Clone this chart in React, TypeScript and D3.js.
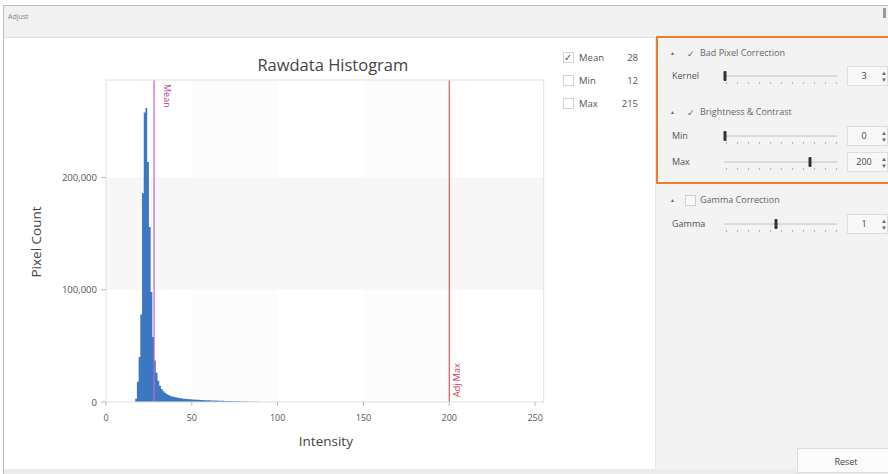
import React from "react";
import * as d3 from "d3";

const intensity = [17,18,19,20,21,22,23,24,25,26,27,28,29,30,31,32,33,34,35,36,37,38,39,40,41,42,43,44,45,46,47,48,49,50,51,52,53,54,55,56,57,58,59,60,61,62,63,64,65,66,67,68,69,70,71,72,73,74,75,76,77,78,79,80,81,82,83,84,85,86,87,88,89,90,91,92,93,94,95,96,97,98,99,100];
const pixelCount = [3000,18000,40000,78000,186000,258000,262000,214000,156000,98000,58000,37000,26000,19000,14500,11500,9500,8200,7200,6300,5600,5000,4600,4200,3900,3600,3400,3200,3000,2850,2700,2550,2400,2300,2200,2100,2000,1900,1800,1720,1650,1580,1500,1450,1400,1350,1300,1250,1200,1150,1100,1050,1000,950,900,850,800,750,700,650,600,550,500,450,400,360,320,280,240,200,170,140,110,80,60,50,40,35,30,25,20,15,10,5];
const xTicks = [0, 50, 100, 150, 200, 250];
const yTicks = [0, 100000, 200000];
const stats = [
  { label: "Mean", value: "28", checked: true },
  { label: "Min", value: "12", checked: false },
  { label: "Max", value: "215", checked: false },
];
const meanValue = 28;
const adjMaxValue = 200;

const FONT = "'Open Sans', 'Noto Sans', sans-serif";

function Slider({ y, label, thumb, value }: { y: number; label: string; thumb: number; value: string }) {
  const dots = d3.range(0, 11).map((i) => 726 + i * 11);
  return (
    <g>
      <text x={672} y={y + 3} fontSize={9} fill="#555" fontFamily={FONT}>{label}</text>
      <line x1={724} x2={837} y1={y} y2={y} stroke="#c4c4c4" strokeWidth={1} />
      {dots.map((d, i) => (
        <rect key={i} x={d} y={y + 6} width={1} height={2} fill="#b5b5b5" />
      ))}
      <rect x={thumb - 1.5} y={y - 5} width={3} height={10} rx={1} fill="#333" />
      <rect x={847.5} y={y - 9.5} width={40} height={19} fill="#f8f8f8" stroke="#dedede" />
      <text x={864} y={y + 3} fontSize={9} fill="#444" textAnchor="middle" fontFamily={FONT}>{value}</text>
      <text x={884} y={y - 1} fontSize={6} fill="#666" textAnchor="middle" fontFamily={FONT}>▲</text>
      <text x={884} y={y + 6} fontSize={6} fill="#666" textAnchor="middle" fontFamily={FONT}>▼</text>
    </g>
  );
}

function Header({ y, text, checked }: { y: number; text: string; checked: boolean }) {
  return (
    <g>
      <text x={670} y={y + 2} fontSize={5} fill="#666" fontFamily={FONT}>▲</text>
      {checked ? (
        <text x={687} y={y + 3.5} fontSize={9} fill="#666" fontFamily={FONT}>✓</text>
      ) : (
        <rect x={685.5} y={y - 4.5} width={10} height={10} fill="#fafafa" stroke="#cfcfcf" />
      )}
      <text x={700} y={y + 3} fontSize={9} fill="#666" fontFamily={FONT}>{text}</text>
    </g>
  );
}

export default function App() {
  const left = 106, right = 543.7, top = 80, bottom = 402;
  const x = d3.scaleLinear().domain([0, 255]).range([left, right]);
  const y = d3.scaleLinear().domain([0, 287000]).range([bottom, top]);
  const fmt = d3.format(",");

  const stepData = intensity.map((v, i) => ({ v, c: pixelCount[i] }));
  const last = intensity[intensity.length - 1] + 1;
  stepData.push({ v: last, c: 0 });
  const area = d3
    .area<{ v: number; c: number }>()
    .x((d) => x(d.v))
    .y0(bottom)
    .y1((d) => y(d.c))
    .curve(d3.curveStepAfter);

  return (
    <svg width={888} height={474} style={{ position: "absolute", left: 0, top: 0 }} fontFamily={FONT}>
      <rect x={0} y={0} width={888} height={474} fill="#ffffff" />
      {/* window */}
      <rect x={3.5} y={5.5} width={890} height={470} fill="#ffffff" stroke="#bdbdbd" />
      <rect x={4} y={6} width={884} height={31} fill="#f1f1f1" />
      <line x1={4} x2={888} y1={37.5} y2={37.5} stroke="#e0e0e0" />
      <text x={8} y={19} fontSize={7} fill="#888">Adjust</text>
      <rect x={883} y={8} width={3} height={10} fill="#999" />
      <rect x={4} y={469} width={884} height={5} fill="#ececec" />

      {/* right panel */}
      <rect x={655} y={38} width={233} height={431} fill="#f3f3f3" />
      <line x1={655.5} x2={655.5} y1={38} y2={469} stroke="#e6e6e6" />

      {/* plot backgrounds */}
      <rect x={x(50)} y={top} width={x(100) - x(50)} height={bottom - top} fill="#fcfcfc" />
      <rect x={x(150)} y={top} width={x(200) - x(150)} height={bottom - top} fill="#fcfcfc" />
      <rect x={left} y={y(200000)} width={right - left} height={y(100000) - y(200000)} fill="#f7f7f7" />

      {/* histogram */}
      <path d={area(stepData) || ""} fill="#3c77c2" />

      {/* annotation lines */}
      <line x1={x(meanValue)} x2={x(meanValue)} y1={top} y2={bottom} stroke="#c865cc" strokeWidth={1.2} />
      <text transform={`translate(${x(meanValue) + 10},${top + 4}) rotate(90)`} fontSize={9} fill="#b0409a">Mean</text>
      <line x1={x(adjMaxValue)} x2={x(adjMaxValue)} y1={top} y2={bottom} stroke="#df5666" strokeWidth={1.2} />
      <text transform={`translate(${x(adjMaxValue) + 11},${bottom - 5}) rotate(-90)`} fontSize={9} fill="#c8404f">Adj Max</text>

      {/* plot border */}
      <rect x={left} y={top} width={right - left} height={bottom - top} fill="none" stroke="#e2e2e2" />

      {/* axes */}
      {xTicks.map((t) => (
        <g key={t}>
          <line x1={x(t)} x2={x(t)} y1={bottom} y2={bottom + 4} stroke="#bbb" />
          <text x={x(t)} y={bottom + 19} fontSize={9} fill="#555" textAnchor="middle">{t}</text>
        </g>
      ))}
      {yTicks.map((t) => (
        <g key={t}>
          <line x1={left - 5} x2={left} y1={y(t)} y2={y(t)} stroke="#bbb" />
          <text x={97} y={y(t) + 3.5} fontSize={9.5} fill="#555" textAnchor="end">{fmt(t)}</text>
        </g>
      ))}
      <text x={(left + right) / 2 + 1} y={446} fontSize={13.5} fill="#444" textAnchor="middle">Intensity</text>
      <text transform={`translate(41,${(top + bottom) / 2 + 1}) rotate(-90)`} fontSize={13.5} fill="#444" textAnchor="middle">Pixel Count</text>
      <text x={(left + right) / 2 + 8} y={71} fontSize={16.5} fill="#444" textAnchor="middle">Rawdata Histogram</text>

      {/* stats legend */}
      {stats.map((s, i) => (
        <g key={s.label}>
          {s.checked ? (
            <g>
              <rect x={563.5} y={52.5 + i * 23} width={10} height={10} fill="#fff" stroke="#d4d4d4" />
              <text x={564} y={61 + i * 23} fontSize={10} fill="#555">✓</text>
            </g>
          ) : (
            <rect x={563.5} y={52.5 + i * 23} width={10} height={10} fill="#fff" stroke="#d4d4d4" />
          )}
          <text x={579} y={61 + i * 23} fontSize={9.5} fill="#555">{s.label}</text>
          <text x={638} y={61 + i * 23} fontSize={9.5} fill="#555" textAnchor="end">{s.value}</text>
        </g>
      ))}

      {/* controls */}
      <Header y={53} text="Bad Pixel Correction" checked={true} />
      <Slider y={76} label="Kernel" thumb={725} value="3" />
      <Header y={112} text="Brightness & Contrast" checked={true} />
      <Slider y={136} label="Min" thumb={725} value="0" />
      <Slider y={162} label="Max" thumb={810} value="200" />
      <rect x={657} y={37} width={240} height={146} fill="none" stroke="#ef7d31" strokeWidth={2} />
      <Header y={200} text="Gamma Correction" checked={false} />
      <Slider y={224} label="Gamma" thumb={776} value="1" />

      {/* reset */}
      <rect x={797.5} y={448.5} width={92} height={24} fill="#fbfbfb" stroke="#ddd" />
      <text x={846} y={465} fontSize={9} fill="#444" textAnchor="middle">Reset</text>
    </svg>
  );
}
